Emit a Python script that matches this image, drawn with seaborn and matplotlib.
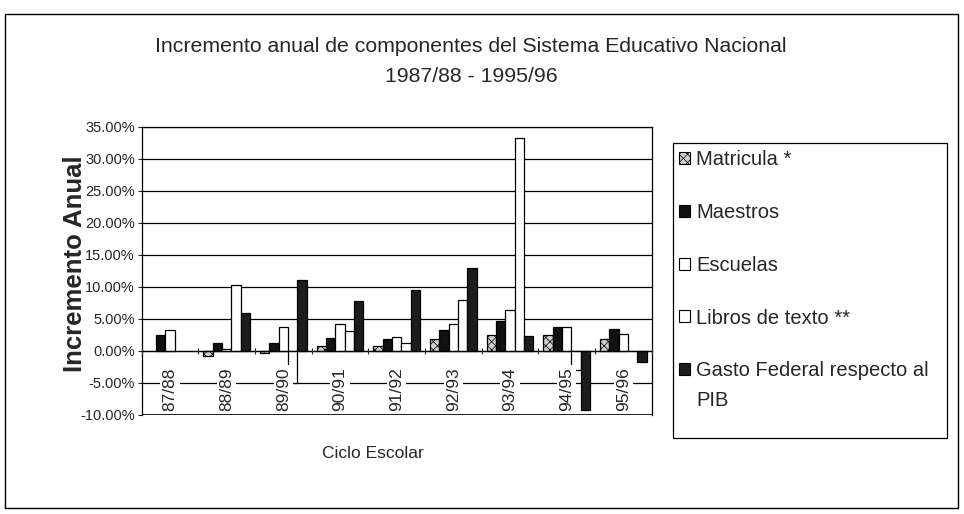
import numpy as np
import pandas as pd
import matplotlib
matplotlib.use("Agg")
import matplotlib.pyplot as plt
from matplotlib.patches import Rectangle, Patch
from matplotlib.ticker import FuncFormatter, MultipleLocator, FixedLocator
import seaborn as sns

ciclos = ['87/88', '88/89', '89/90', '90/91', '91/92', '92/93', '93/94', '94/95', '95/96']
series = ['Matricula *', 'Maestros', 'Escuelas', 'Libros de texto **',
          'Gasto Federal respecto al\nPIB']

# incremento anual (%)
matricula = [np.nan, -0.8, -0.3, 0.8, 0.8, 1.8, 2.4, 2.5, 1.9]
maestros = [2.5, 1.2, 1.3, 2.0, 1.8, 3.2, 4.6, 3.7, 3.4]
escuelas = [3.3, 0.3, 3.8, 4.2, 2.2, 4.2, 6.4, 3.8, 2.7]
libros = [np.nan, 10.3, -5.0, 3.1, 1.3, 8.0, 33.3, -3.0, np.nan]
gasto = [np.nan, 5.9, 11.1, 7.8, 9.5, 12.9, 2.3, -9.3, -1.8]

colores = ['#cfcfcf', '#111111', '#ffffff', '#ffffff', '#1c1c1c']
hatches = ['xxxx', '', '', '', '']

sns.set_style('white')
plt.rcParams['font.family'] = ['Liberation Sans', 'DejaVu Sans']
plt.rcParams['hatch.linewidth'] = 0.5

df = pd.DataFrame({
    'ciclo': np.tile(ciclos, len(series)),
    'serie': np.repeat(series, len(ciclos)),
    'valor': np.concatenate([matricula, maestros, escuelas, libros, gasto]),
})

fig = plt.figure(figsize=(9.64, 5.14), dpi=100)
ax = fig.add_axes([0.147, 0.193, 0.529, 0.560])

sns.barplot(data=df, x='ciclo', y='valor', hue='serie', order=ciclos, hue_order=series,
            palette=dict(zip(series, colores)), edgecolor='black', linewidth=0.9,
            width=0.82, errorbar=None, legend=False, ax=ax)

for cont, h in zip(ax.containers, hatches):
    for bar in cont:
        bar.set_hatch(h)

ax.set_ylim(-10, 35)
ax.set_xlim(-0.5, len(ciclos) - 0.5)
ax.yaxis.set_major_locator(MultipleLocator(5))
ax.yaxis.set_major_formatter(FuncFormatter(lambda v, p: f"{v:.2f}%"))
ax.yaxis.grid(True, color='black', lw=0.9)
ax.axhline(-10, color='black', lw=1.2, zorder=1)
ax.set_axisbelow(True)
ax.tick_params(axis='y', labelsize=10.5, length=3, width=0.8, left=True, pad=2)

for s in ax.spines.values():
    s.set_color('black')
    s.set_linewidth(0.9)
ax.spines['bottom'].set_position(('data', 0))

ax.xaxis.set_zorder(3)
ax.tick_params(axis='x', which='major', length=0, labelsize=12.5, pad=12)
ax.xaxis.set_minor_locator(FixedLocator(np.arange(-0.5, len(ciclos), 1.0)))
ax.tick_params(axis='x', which='minor', length=5, width=0.8, direction='inout', bottom=True)
for t in ax.get_xticklabels():
    t.set_rotation(90)
    t.set_va('top')
    t.set_bbox(dict(facecolor='white', edgecolor='none', pad=1.5))
ax.set_xlabel('')
ax.set_ylabel('')

fig.text(471 / 964, 1 - 46 / 514, 'Incremento anual de componentes del Sistema Educativo Nacional',
         ha='center', va='center', fontsize=15.3)
fig.text(471 / 964, 1 - 76 / 514, '1987/88 - 1995/96', ha='center', va='center', fontsize=15.3)
fig.text(75 / 964, 1 - 264 / 514, 'Incremento Anual', rotation=90, ha='center', va='center',
         fontsize=18.5, fontweight='bold')
fig.text(373 / 964, 1 - 453 / 514, 'Ciclo Escolar', ha='center', va='center', fontsize=12.5)

# recuadro de la leyenda y marco exterior
fig.patches.append(Rectangle((673 / 964, 1 - 438 / 514), 274 / 964, 295 / 514,
                             transform=fig.transFigure, fill=False, ec='black', lw=0.9))
fig.patches.append(Rectangle((5 / 964, 1 - 508 / 514), 953 / 964, 494 / 514,
                             transform=fig.transFigure, fill=False, ec='black', lw=1.0))

# la ultima etiqueta ocupa dos lineas: el cuadro va junto a la primera
primeras = [s.split('\n')[0] for s in series]
handles = [Patch(facecolor=c, edgecolor='black', hatch=h, lw=0.8) for c, h in zip(colores, hatches)]
leg = fig.legend(handles, primeras, loc='upper left', bbox_to_anchor=(675 / 964, 1 - 146 / 514),
                 frameon=False, fontsize=14.5, handlelength=0.55, handleheight=0.55,
                 handletextpad=0.3, labelspacing=1.68, borderaxespad=0, borderpad=0.2)

fig.canvas.draw()
ult = leg.get_texts()[-1].get_window_extent()
resto = series[-1].split('\n')[1]
fig.text(ult.x0 / fig.bbox.width, (ult.y0 - 30) / fig.bbox.height, resto,
         ha='left', va='bottom', fontsize=14.5)

fig.savefig('out.png', dpi=100)
